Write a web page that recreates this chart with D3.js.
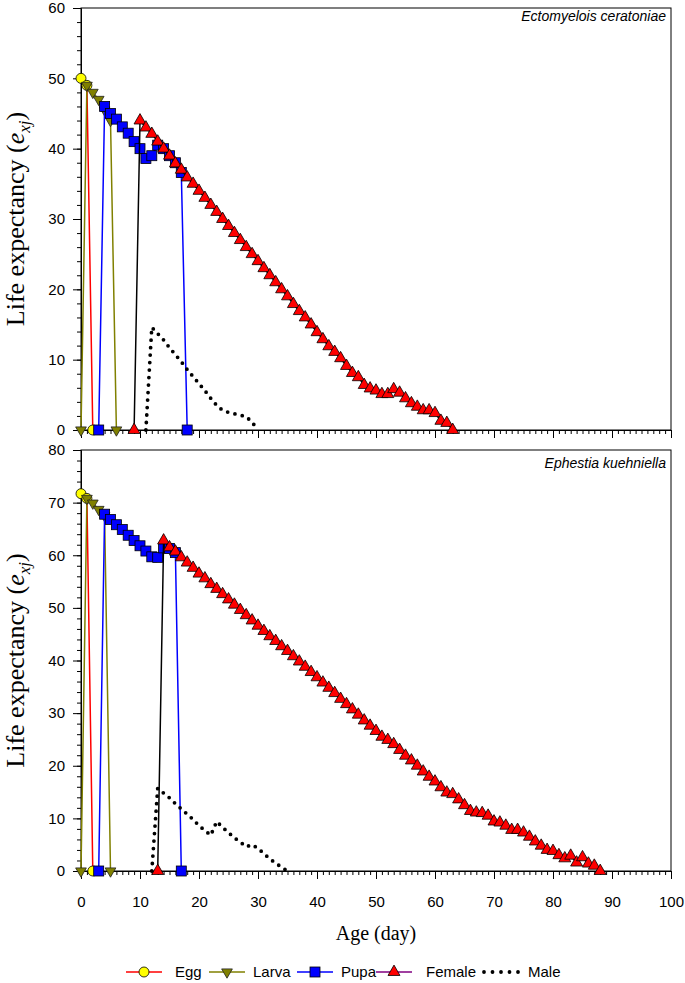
<!DOCTYPE html>
<html>
<head>
  <title>Life expectancy</title>
  <meta charset="utf-8">
  <script src="https://d3js.org/d3.v7.min.js"></script>
  <style>
    body { margin: 0; background: #fff; }
    .frame { fill: none; stroke: #000; stroke-width: 1; }
    .axis path, .axis line { stroke: #000; }
    .serif { font-family: "Liberation Serif", "Times New Roman", serif; fill: #000; }
    .sans { font-family: "Liberation Sans", Arial, sans-serif; fill: #000; }
  </style>
</head>
<body>
  <svg width="685" height="983"></svg>
  <script>

    // Ectomyelois ceratoniae  [age (day), e_xj]
    const ecEgg = [[0, 50], [1, 49], [2, 0]]
    const ecLarva = [[0, 0], [1, 49], [2, 48], [3, 47], [4, 45.5], [5, 44], [6, 0]]
    const ecPupa = [[3, 0], [4, 46], [5, 45], [6, 44.2], [7, 43.1], [8, 42.2], [9, 41], [10, 40], [11, 38.6],
      [12, 39], [13, 40.5], [14, 40], [15, 39], [16, 38], [17, 36.6], [18, 0]]
    const ecFemale = [[9, 0], [10, 44], [11, 43], [12, 42.1], [13, 41], [14, 40], [15, 39], [16, 37.9], [17, 37],
      [18, 35.9], [19, 35], [20, 34], [21, 33], [22, 32], [23, 31], [24, 30], [25, 29], [26, 28], [27, 27],
      [28, 26], [29, 25], [30, 24], [31, 23], [32, 22], [33, 21], [34, 20], [35, 19], [36, 17.9], [37, 16.9],
      [38, 16], [39, 15], [40, 13.9], [41, 12.9], [42, 11.9], [43, 11.1], [44, 10.2], [45, 9.1], [46, 8.1],
      [47, 7.5], [48, 6.4], [49, 5.9], [50, 5.6], [51, 5.1], [52, 5.1], [53, 5.8], [54, 5.3], [55, 4.5],
      [56, 3.8], [57, 3.3], [58, 2.8], [59, 2.8], [60, 2.4], [61, 1.3], [62, 1], [63, 0]]
    const ecMale = [[11, 0], [12, 14.6], [13, 13.7], [14, 12.8], [15, 11.7], [16, 10.7], [17, 9.7], [18, 8.6],
      [19, 7.6], [20, 6.6], [21, 5.6], [22, 4.5], [23, 3.5], [24, 2.8], [25, 2.5], [26, 2.3], [27, 2.1],
      [28, 1.9], [29, 1.1], [30, 0]]

    // Ephestia kuehniella
    const ekEgg = [[0, 71.7], [1, 70.8], [2, 0]]
    const ekLarva = [[0, 0], [1, 70.8], [2, 69.9], [3, 68.7], [4, 67.5], [5, 0]]
    const ekPupa = [[3, 0], [4, 67.8], [5, 66.8], [6, 65.8], [7, 64.9], [8, 63.8], [9, 62.8], [10, 61.8],
      [11, 60.8], [12, 59.7], [13, 59.6], [14, 61.4], [15, 61.3], [16, 60.5], [17, 0]]
    const ekFemale = [[13, 0], [14, 62.8], [15, 61.5], [16, 60.7], [17, 59.6], [18, 58.6], [19, 57.6], [20, 56.5],
      [21, 55.6], [22, 54.5], [23, 53.6], [24, 52.6], [25, 51.6], [26, 50.6], [27, 49.6], [28, 48.6], [29, 47.6],
      [30, 46.6], [31, 45.6], [32, 44.6], [33, 43.7], [34, 42.7], [35, 41.8], [36, 40.8], [37, 39.8], [38, 38.8],
      [39, 37.8], [40, 36.8], [41, 35.8], [42, 34.8], [43, 33.8], [44, 32.7], [45, 31.7], [46, 30.7], [47, 29.7],
      [48, 28.6], [49, 27.6], [50, 26.6], [51, 25.5], [52, 24.9], [53, 24.1], [54, 23], [55, 21.9], [56, 21],
      [57, 20], [58, 18.9], [59, 17.9], [60, 17], [61, 15.9], [62, 14.9], [63, 14.6], [64, 13.6], [65, 12.5],
      [66, 11.4], [67, 11.1], [68, 11], [69, 10.5], [70, 9.4], [71, 9.2], [72, 8.6], [73, 7.8], [74, 7.8],
      [75, 7.3], [76, 6.5], [77, 5.6], [78, 4.8], [79, 4], [80, 3.8], [81, 3], [82, 2.4], [83, 2.9], [84, 1.6],
      [85, 2.6], [86, 1.4], [87, 1], [88, 0]]
    const ekMale = [[12, 0], [13, 15.7], [14, 14.8], [15, 13.9], [16, 12.8], [17, 11.8], [18, 10.8], [19, 9.8],
      [20, 8.6], [21, 7.7], [22, 6.8], [23, 9.4], [24, 8.3], [25, 7.3], [26, 6.3], [27, 5.5], [28, 4.6],
      [29, 5], [30, 4.3], [31, 3.3], [32, 2.3], [33, 1.5], [34, 0.7], [35, 0]]

    const stageNames = ["Egg", "Larva", "Pupa", "Female", "Male"]
    const xTicks = [0, 10, 20, 30, 40, 50, 60, 70, 80, 90, 100]
    const ecYTicks = [0, 10, 20, 30, 40, 50, 60]
    const ekYTicks = [0, 10, 20, 30, 40, 50, 60, 70, 80]

    const svg = d3.select("svg")
    const left = 81, right = 671

    const x = d3.scaleLinear().domain([0, 100]).range([left, right])

    // marker + line style per stage
    const styles = {
      Egg: { line: "red", shape: "circle" },
      Larva: { line: "#808000", shape: "down" },
      Pupa: { line: "blue", shape: "square" },
      Female: { line: "#000", shape: "up", legendLine: "#800080" },
      Male: { line: "#000", shape: "dots" }
    }

    function marker(sel, shape) {
      if (shape === "circle") {
        sel.append("circle").attr("r", 5).attr("fill", "yellow").attr("stroke", "#000").attr("stroke-width", 0.8)
      } else if (shape === "square") {
        sel.append("rect").attr("x", -5).attr("y", -5).attr("width", 10).attr("height", 10)
          .attr("fill", "blue").attr("stroke", "#000").attr("stroke-width", 0.8)
      } else if (shape === "up") {
        sel.append("path").attr("d", d3.symbol().type(d3.symbolTriangle).size(62)())
          .attr("fill", "red").attr("stroke", "#000").attr("stroke-width", 0.8)
      } else if (shape === "down") {
        sel.append("path").attr("d", d3.symbol().type(d3.symbolTriangle).size(50)())
          .attr("transform", "rotate(180)")
          .attr("fill", "#808000").attr("stroke", "#222").attr("stroke-width", 0.8)
      }
    }

    function drawPanel(top, bottom, yMax, yTicks, series, title, titleDy, showXLabels) {
      const y = d3.scaleLinear().domain([0, yMax]).range([bottom, top])
      const g = svg.append("g")

      // minor ticks
      g.append("g").attr("class", "axis").attr("transform", `translate(0,${bottom})`)
        .call(d3.axisBottom(x).tickValues(d3.range(0, 101, 1)).tickSize(4).tickSizeOuter(0).tickFormat(""))
      g.append("g").attr("class", "axis").attr("transform", `translate(${left},0)`)
        .call(d3.axisLeft(y).tickValues(d3.range(0, yMax + 1, 2)).tickSize(4).tickSizeOuter(0).tickFormat(""))

      // major ticks
      const xa = g.append("g").attr("class", "axis").attr("transform", `translate(0,${bottom})`)
        .call(d3.axisBottom(x).tickValues(xTicks).tickSize(8).tickSizeOuter(0).tickPadding(17))
      xa.attr("font-family", "Liberation Sans, Arial, sans-serif").attr("font-size", 15)
      if (!showXLabels) xa.selectAll("text").remove()

      const ya = g.append("g").attr("class", "axis").attr("transform", `translate(${left},0)`)
        .call(d3.axisLeft(y).tickValues(yTicks).tickSize(8).tickSizeOuter(0).tickPadding(8))
      ya.attr("font-family", "Liberation Sans, Arial, sans-serif").attr("font-size", 15)

      g.append("rect").attr("class", "frame")
        .attr("x", left).attr("y", top).attr("width", right - left).attr("height", bottom - top)

      const line = d3.line().x(d => x(d[0])).y(d => y(d[1]))

      stageNames.forEach((name, i) => {
        const st = styles[name]
        const pts = series[i]
        const p = g.append("path").datum(pts).attr("d", line)
          .attr("fill", "none").attr("stroke", st.line)
        if (st.shape === "dots") {
          p.attr("stroke-width", 3.8).attr("stroke-linecap", "round").attr("stroke-dasharray", "0,7.5")
        } else {
          p.attr("stroke-width", 1.5)
          g.append("g").selectAll("g").data(pts).enter().append("g")
            .attr("transform", d => `translate(${x(d[0])},${y(d[1])})`)
            .each(function () { marker(d3.select(this), st.shape) })
        }
      })

      g.append("text").attr("class", "sans")
        .attr("x", right - 5).attr("y", top + titleDy).attr("text-anchor", "end")
        .attr("font-size", 14).attr("font-style", "italic").text(title)

      // y axis title
      const t = g.append("text").attr("class", "serif").attr("font-size", 26)
        .attr("transform", `translate(24,${(top + bottom) / 2}) rotate(-90)`)
        .attr("text-anchor", "middle")
      t.append("tspan").text("Life expectancy (")
      t.append("tspan").attr("font-style", "italic").text("e")
      t.append("tspan").attr("font-style", "italic").attr("font-size", 17).attr("dy", 6).text("xj")
      t.append("tspan").attr("dy", -6).text(")")
    }

    drawPanel(8, 430, 60, ecYTicks, [ecEgg, ecLarva, ecPupa, ecFemale, ecMale], "Ectomyelois ceratoniae", 13, false)
    drawPanel(450, 871, 80, ekYTicks, [ekEgg, ekLarva, ekPupa, ekFemale, ekMale], "Ephestia kuehniella", 18, true)

    svg.append("text").attr("class", "serif").attr("font-size", 20)
      .attr("x", (left + right) / 2).attr("y", 940).attr("text-anchor", "middle").text("Age (day)")

    // legend
    const legendX = [126, 209, 297, 376, 483]
    const legendTextX = [175, 253, 341, 426, 528]
    const ly = 972
    const lg = svg.append("g")
    stageNames.forEach((name, i) => {
      const st = styles[name]
      const l = lg.append("line").attr("x1", legendX[i]).attr("x2", legendX[i] + 36)
        .attr("y1", ly).attr("y2", ly).attr("stroke", st.legendLine || st.line)
      if (st.shape === "dots") {
        l.attr("stroke-width", 3.8).attr("stroke-linecap", "round").attr("stroke-dasharray", "0,8.5")
          .attr("x1", legendX[i] + 1)
      } else {
        l.attr("stroke-width", 1.5)
        const m = lg.append("g").attr("transform", `translate(${legendX[i] + 18},${ly})`)
        marker(m, st.shape)
      }
      lg.append("text").attr("class", "sans").attr("font-size", 15)
        .attr("x", legendTextX[i]).attr("y", ly + 5).text(name)
    })

  </script>
</body>
</html>
